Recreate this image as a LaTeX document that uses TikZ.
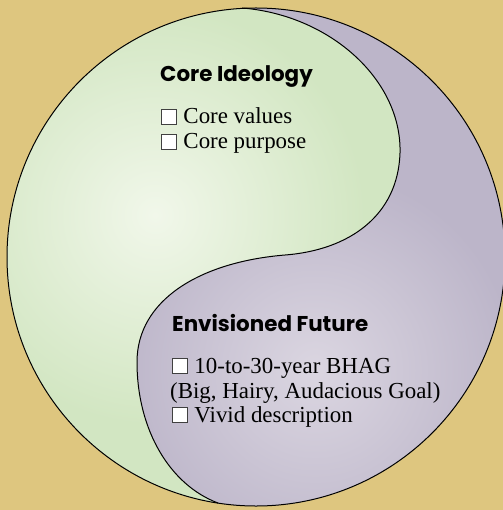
\documentclass[tikz,border=0pt]{standalone}
\usepackage{fontspec}
\setmainfont{Liberation Serif}
\newfontfamily\headfont{Poppins}
\usetikzlibrary{positioning}

\definecolor{sand}{HTML}{DEC67F}
\definecolor{sage}{HTML}{D2E6C2}
\definecolor{sagelight}{HTML}{F1F7EA}
\definecolor{lilac}{HTML}{BCB5C9}
\definecolor{lilaclight}{HTML}{DBD6E1}

\newcommand{\tickbox}{{\setlength{\fboxsep}{0pt}\setlength{\fboxrule}{0.7pt}%
  \fcolorbox{black!75}{white}{\rule{0pt}{14bp}\rule{14bp}{0pt}}}\hspace{0.3em}}
% the wave that splits the two halves
\newcommand{\swave}{(top) .. controls (330,15) and (402,80) .. (400,153)
  .. controls (398,215) and (350,250) .. (mid)
  .. controls (200,262) and (137,300) .. (137,362)
  .. controls (137,430) and (170,485) .. (bot)}

\tikzset{
  head/.style={font=\headfont\bfseries\fontsize{21.5}{26}\selectfont,anchor=base west,inner sep=0pt},
  item/.style={font=\fontsize{23}{25}\selectfont,anchor=base west,inner sep=0pt},
  rim/.style={draw=black,line width=1bp}
}

\begin{document}
\begin{tikzpicture}[x=1bp,y=-1bp]
  \fill[sand] (0,0) rectangle (503,510);
  \useasboundingbox (0,0) rectangle (503,510);
  \coordinate (c) at (256,257);
  \coordinate (top) at (242,8);
  \coordinate (mid) at (285,255);
  \coordinate (bot) at (218,503);

  \begin{scope}
    \clip (c) circle (249);
    \fill[lilac] (0,0) rectangle (503,510);
    \shade[inner color=lilaclight,outer color=lilac] (315,370) circle (200);
    \clip \swave -- (218,520) -- (-10,520) -- (-10,-10) -- (242,-10) -- cycle;
    \fill[sage] (0,0) rectangle (503,510);
    \shade[inner color=sagelight,outer color=sage] (155,215) circle (210);
  \end{scope}
  \draw[rim] (c) circle (249);
  \draw[rim] \swave;

  \node[head] (ideo) at (160,82) {Core Ideology};
  \node[item] (values) at (161,124) {\tickbox Core values};
  \node[item] (purpose) at ([yshift=-25bp]values.base west) {\tickbox Core purpose};

  \node[head] (future) at (172,331) {Envisioned Future};
  \node[item] (bhag) at (172,373) {\tickbox 10-to-30-year BHAG};
  \node[item] (goal) at ([xshift=-2bp,yshift=-25bp]bhag.base west) {(Big, Hairy, Audacious Goal)};
  \node[item] (vivid) at ([yshift=-49bp]bhag.base west) {\tickbox Vivid description};
\end{tikzpicture}
\end{document}
